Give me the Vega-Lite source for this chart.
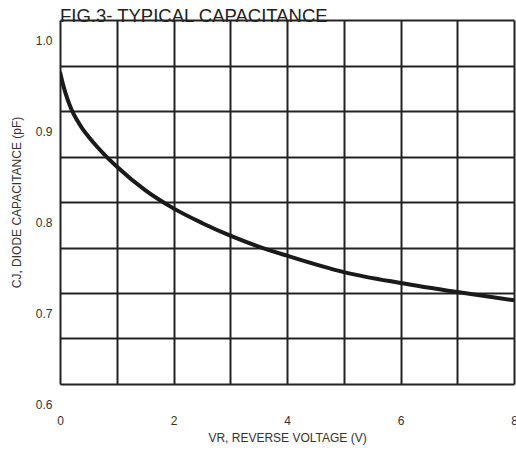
{
  "$schema": "https://vega.github.io/schema/vega-lite/v6.json",
  "autosize": "none",
  "padding": {"left": 60, "top": 20, "right": 2, "bottom": 68},
  "width": 454,
  "height": 364,
  "background": "white",
  "title": {
    "text": "FIG.3- TYPICAL CAPACITANCE",
    "anchor": "start",
    "frame": "group",
    "font": "Liberation Sans",
    "fontSize": 18.5,
    "fontWeight": "normal",
    "color": "#222222",
    "baseline": "alphabetic",
    "offset": 0,
    "dy": 20
  },
  "config": {
    "view": {"stroke": null},
    "font": "Liberation Sans"
  },
  "data": {
    "values": [
      {"v": 0.0, "c": 0.943},
      {"v": 0.05, "c": 0.930},
      {"v": 0.1, "c": 0.919},
      {"v": 0.2, "c": 0.902},
      {"v": 0.3, "c": 0.890},
      {"v": 0.4, "c": 0.880},
      {"v": 0.5, "c": 0.872},
      {"v": 0.65, "c": 0.861},
      {"v": 0.8, "c": 0.851},
      {"v": 1.0, "c": 0.839},
      {"v": 1.5, "c": 0.813},
      {"v": 2.0, "c": 0.793},
      {"v": 2.5, "c": 0.777},
      {"v": 3.0, "c": 0.763},
      {"v": 3.5, "c": 0.751},
      {"v": 4.0, "c": 0.741},
      {"v": 5.0, "c": 0.723},
      {"v": 6.0, "c": 0.711},
      {"v": 7.0, "c": 0.701},
      {"v": 8.0, "c": 0.692}
    ]
  },
  "mark": {"type": "line", "interpolate": "monotone", "color": "#1a1a1a", "strokeWidth": 4, "clip": true},
  "encoding": {
    "x": {
      "field": "v",
      "type": "quantitative",
      "scale": {"domain": [0, 8], "nice": false, "zero": false},
      "axis": {
        "values": [0, 1, 2, 3, 4, 5, 6, 7, 8],
        "labelExpr": "datum.value % 2 == 0 ? datum.label : ''",
        "title": "VR, REVERSE VOLTAGE (V)",
        "titleFont": "Liberation Sans",
        "titleFontSize": 12,
        "titleFontWeight": "normal",
        "titleColor": "#333333",
        "titlePadding": 6,
        "labelFont": "Liberation Sans",
        "labelFontSize": 12,
        "labelColor": "#333333",
        "labelPadding": 31,
        "labelOverlap": false,
        "labelFlush": false,
        "ticks": false,
        "domain": false,
        "grid": true,
        "gridColor": "#222222",
        "gridWidth": 2,
        "gridOpacity": 1
      }
    },
    "y": {
      "field": "c",
      "type": "quantitative",
      "scale": {"domain": [0.6, 1.0], "nice": false, "zero": false},
      "axis": {
        "values": [0.6, 0.65, 0.7, 0.75, 0.8, 0.85, 0.9, 0.95, 1.0],
        "labelExpr": "round(datum.value * 100) % 10 == 0 ? format(datum.value, '.1f') : ''",
        "title": "CJ, DIODE CAPACITANCE (pF)",
        "titleFont": "Liberation Sans",
        "titleFontSize": 12,
        "titleFontWeight": "normal",
        "titleColor": "#333333",
        "titlePadding": 12,
        "labelFont": "Liberation Sans",
        "labelFontSize": 12,
        "labelColor": "#333333",
        "labelPadding": 8,
        "labelOffset": 20,
        "labelOverlap": false,
        "labelFlush": false,
        "ticks": false,
        "domain": false,
        "grid": true,
        "gridColor": "#222222",
        "gridWidth": 2,
        "gridOpacity": 1
      }
    }
  }
}
